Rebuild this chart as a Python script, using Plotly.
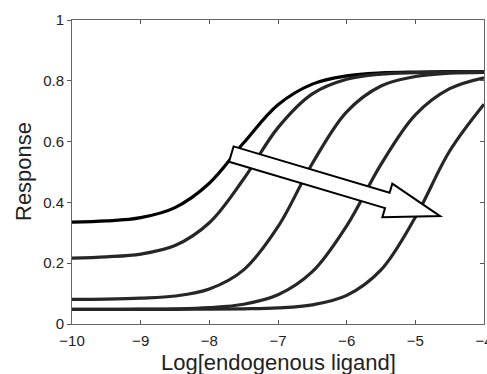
import math
import plotly.graph_objects as go

# ---- data ----
log_ligand = [-10, -9.5, -9, -8.5, -8, -7.5, -7, -6.5, -6, -5.5, -5, -4.5, -4]

resp_1 = [0.335, 0.339, 0.350, 0.383, 0.463, 0.596, 0.721, 0.789, 0.816, 0.826, 0.829, 0.830, 0.830]
resp_2 = [0.217, 0.221, 0.230, 0.258, 0.333, 0.477, 0.646, 0.757, 0.805, 0.822, 0.827, 0.829, 0.830]
resp_3 = [0.081, 0.082, 0.085, 0.092, 0.115, 0.178, 0.320, 0.528, 0.698, 0.783, 0.814, 0.825, 0.828]
resp_4 = [0.048, 0.048, 0.049, 0.050, 0.054, 0.065, 0.096, 0.172, 0.323, 0.525, 0.688, 0.774, 0.810]
resp_5 = [0.048, 0.048, 0.048, 0.048, 0.049, 0.050, 0.053, 0.063, 0.094, 0.178, 0.351, 0.569, 0.723]

series = [resp_1, resp_2, resp_3, resp_4, resp_5]
line_colors = ["#000000", "#262626", "#262626", "#262626", "#262626"]

x_ticks = [-10, -9, -8, -7, -6, -5, -4]
y_ticks = [0, 0.2, 0.4, 0.6, 0.8, 1]

x_title = "Log[endogenous ligand]"
y_title = "Response"

# arrow annotation (tail and tip in data units)
arrow_tail = (-7.68, 0.559)
arrow_tip = (-4.64, 0.355)

# ---- layout geometry ----
W, H = 487, 374
ML, MR, MT, MB = 72, 3, 20, 50
PW, PH = W - ML - MR, H - MT - MB
XR, YR = (-10, -4), (0, 1)


def to_px(x, y):
    return (ML + (x - XR[0]) / (XR[1] - XR[0]) * PW,
            MT + (YR[1] - y) / (YR[1] - YR[0]) * PH)


def to_data(px, py):
    return (XR[0] + (px - ML) / PW * (XR[1] - XR[0]),
            YR[1] - (py - MT) / PH * (YR[1] - YR[0]))


fig = go.Figure()
for ys, c in zip(series, line_colors):
    fig.add_trace(go.Scatter(x=log_ligand, y=ys, mode="lines",
                             line=dict(color=c, width=3.2, shape="spline", smoothing=1.0),
                             showlegend=False, hoverinfo="skip"))
# dummy trace to activate right axis
fig.add_trace(go.Scatter(x=[None], y=[None], yaxis="y2", showlegend=False, hoverinfo="skip"))

# build hollow block arrow polygon in pixel space, convert back to data
tx, ty = to_px(*arrow_tail)
hx, hy = to_px(*arrow_tip)
dx, dy = hx - tx, hy - ty
L = math.hypot(dx, dy)
ux, uy = dx / L, dy / L
nx, ny = -uy, ux
sw, hw, hl = 8.0, 17.5, 55.0
bx, by = hx - ux * hl, hy - uy * hl
pts_px = [
    (tx + nx * sw, ty + ny * sw),
    (bx + nx * sw, by + ny * sw),
    (bx + nx * hw, by + ny * hw),
    (hx, hy),
    (bx - nx * hw, by - ny * hw),
    (bx - nx * sw, by - ny * sw),
    (tx - nx * sw, ty - ny * sw),
]
pts = [to_data(px, py) for px, py in pts_px]
path = "M " + " L ".join(f"{x:.5f},{y:.5f}" for x, y in pts) + " Z"
fig.add_shape(type="path", path=path, xref="x", yref="y",
              fillcolor="white", line=dict(color="black", width=2), layer="above")

font_family = "Liberation Sans, Arial, Helvetica, sans-serif"

# axis titles as annotations for exact placement
fig.add_annotation(text=x_title, xref="x domain", yref="y domain", x=0.5, y=0,
                   xanchor="center", yanchor="middle", yshift=-38, showarrow=False,
                   font=dict(size=22, color="#222222", family=font_family))
fig.add_annotation(text=y_title, xref="x domain", yref="y domain", x=0, y=0.5,
                   xanchor="center", yanchor="middle", xshift=-49, textangle=-90,
                   showarrow=False, font=dict(size=22, color="#222222", family=font_family))

fig.update_layout(
    width=W, height=H,
    margin=dict(l=ML, r=MR, t=MT, b=MB, autoexpand=False),
    paper_bgcolor="white", plot_bgcolor="white",
    font=dict(family=font_family, color="#222222", size=15),
    xaxis=dict(range=list(XR), tickvals=x_ticks, ticks="inside", ticklen=4,
               tickcolor="#555", showline=True, linecolor="#666", linewidth=1,
               mirror="ticks", showgrid=False, zeroline=False, automargin=False,
               tickfont=dict(size=15), ticklabeloverflow="allow", ticklabelstandoff=3),
    yaxis=dict(range=list(YR), tickvals=y_ticks, ticks="outside", ticklen=4,
               tickcolor="#555", showline=True, linecolor="#666", linewidth=1,
               showgrid=False, zeroline=False, tickfont=dict(size=15), automargin=False),
    yaxis2=dict(range=list(YR), tickvals=y_ticks, overlaying="y", side="right",
                ticks="inside", ticklen=4, tickcolor="#555", showline=True,
                linecolor="#666", linewidth=1, showticklabels=False,
                showgrid=False, zeroline=False, automargin=False),
)

fig.write_html("out.html", config={"displayModeBar": False},
               post_script="document.body.style.margin='0';document.body.style.padding='0';"
                           "document.body.style.overflow='hidden';")
